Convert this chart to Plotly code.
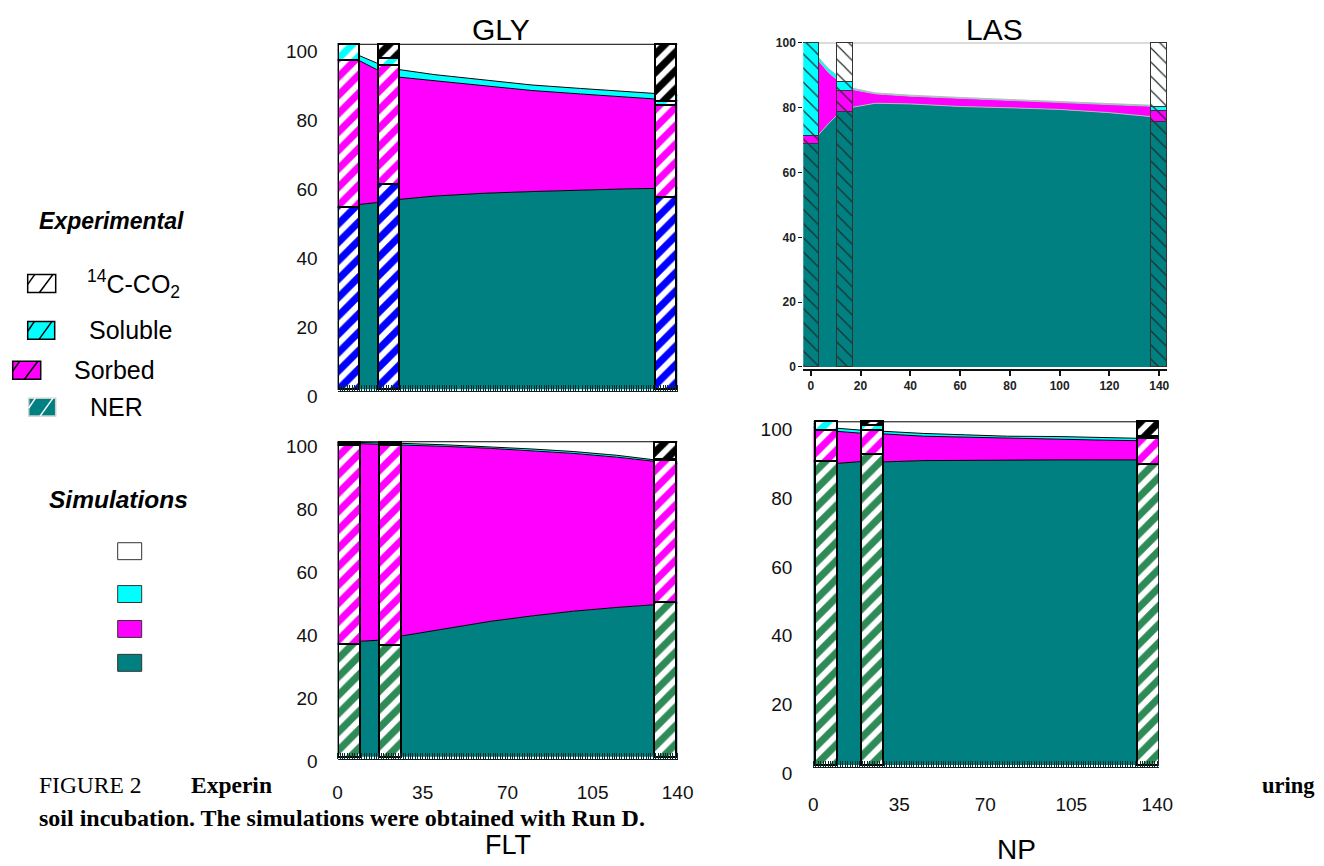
import plotly.graph_objects as go

W, H = 1324, 866
TEAL = '#008080'
MAG = '#FF00FF'
CYAN = '#00FFFF'
WHITE = '#FFFFFF'

# ---------------- data (percent of applied 14C) ----------------
# GLY
gly_exp_days = [4.3, 20.8, 135.0]
gly_exp_ner = [53.0, 59.4, 55.8]
gly_exp_sorbed = [42.6, 34.7, 26.6]
gly_exp_soluble = [4.4, 2.1, 1.1]
gly_exp_co2 = [0.0, 3.8, 16.5]
gly_sim_days = [0, 8, 16, 25, 40, 60, 80, 100, 120, 140]
gly_sim_ner = [52.5, 53.5, 54.1, 55.0, 56.0, 56.8, 57.3, 57.8, 58.1, 58.3]
gly_sim_sorbed = [46.0, 42.1, 38.6, 35.5, 33.4, 31.2, 29.3, 27.8, 26.5, 25.4]
gly_sim_soluble = [1.3, 1.4, 1.9, 2.2, 1.8, 1.7, 1.6, 1.6, 1.6, 1.6]
gly_sim_co2 = [0.2, 3.0, 5.4, 7.3, 8.8, 10.3, 11.8, 12.8, 13.8, 14.7]

# LAS
las_exp_days = [0.2, 14.0, 139.9]
las_exp_ner = [69.0, 78.9, 75.7]
las_exp_sorbed = [2.5, 6.4, 3.5]
las_exp_soluble = [28.5, 2.7, 1.1]
las_exp_co2 = [0.0, 12.0, 19.7]
las_sim_days = [0, 3.3, 7, 10.9, 17, 26, 40, 60, 80, 100, 120, 137, 143.2]
las_sim_ner = [66.0, 71.8, 75.0, 78.0, 80.2, 81.4, 81.2, 80.4, 80.0, 79.5, 78.5, 77.2, 76.8]
las_sim_sorbed = [31.0, 22.6, 16.0, 10.4, 5.4, 2.9, 2.4, 2.5, 2.2, 2.0, 2.5, 3.3, 3.5]
las_sim_soluble = [0.8, 1.0, 1.2, 1.3, 0.4, 0.3, 0.3, 0.3, 0.3, 0.3, 0.3, 0.3, 0.3]
las_sim_co2 = [2.2, 4.6, 7.8, 10.3, 14.0, 15.4, 16.1, 16.8, 17.5, 18.2, 18.7, 19.2, 19.4]

# FLT
flt_exp_days = [4.5, 21.4, 134.8]
flt_exp_ner = [36.0, 35.7, 49.4]
flt_exp_sorbed = [63.0, 63.3, 44.8]
flt_exp_soluble = [0.8, 0.7, 0.3]
flt_exp_co2 = [0.2, 0.3, 5.5]
flt_sim_days = [0, 9, 17, 26, 45, 63, 80, 97, 115, 130, 140]
flt_sim_ner = [36.2, 36.7, 37.0, 38.3, 40.8, 43.0, 44.7, 46.2, 47.4, 48.3, 48.8]
flt_sim_sorbed = [63.4, 62.7, 62.2, 60.7, 57.7, 54.9, 52.5, 50.1, 47.7, 45.4, 44.2]
flt_sim_soluble = [0.3, 0.4, 0.4, 0.5, 0.5, 0.5, 0.5, 0.6, 0.6, 0.6, 0.6]
flt_sim_co2 = [0.1, 0.2, 0.4, 0.5, 1.0, 1.6, 2.3, 3.1, 4.3, 5.7, 6.4]

# NP
np_exp_days = [5.2, 23.9, 136.3]
np_exp_ner = [88.4, 90.5, 87.7]
np_exp_sorbed = [9.0, 6.9, 7.6]
np_exp_soluble = [2.6, 1.6, 0.5]
np_exp_co2 = [0.0, 1.0, 4.2]
np_sim_days = [0, 10, 19, 28, 45, 62, 79, 100, 115, 132, 140]
np_sim_ner = [88.6, 87.9, 88.4, 88.3, 88.7, 88.8, 88.9, 88.9, 88.9, 88.9, 88.9]
np_sim_sorbed = [9.9, 9.3, 8.3, 8.2, 7.1, 6.7, 6.3, 6.1, 5.8, 5.6, 5.6]
np_sim_soluble = [0.9, 0.9, 0.9, 0.7, 0.8, 0.7, 0.6, 0.7, 0.7, 0.7, 0.7]
np_sim_co2 = [0.6, 1.9, 2.4, 2.8, 3.4, 3.8, 4.2, 4.3, 4.6, 4.8, 4.8]

y_ticks = [0, 20, 40, 60, 80, 100]
las_x_ticks = [0, 20, 40, 60, 80, 100, 120, 140]
day_ticks = [0, 35, 70, 105, 140]

# ---------------- helpers (pixel positions -> paper fractions) ----------------
SX, OX = 0.9843, 12.3
SY, OY = 0.98, 9.6


def fx(x):
    return ((x - OX) / SX) / W


def fy(y):
    return 1 - ((y - OY) / SY) / H


SANS = 'Liberation Sans, Arial, sans-serif'
SERIF = 'Liberation Serif, Times New Roman, serif'

fig = go.Figure()

panels = [
    dict(key='gly', base=1, ov=5,
         exp=(gly_exp_days, gly_exp_ner, gly_exp_sorbed, gly_exp_soluble, gly_exp_co2),
         sim=(gly_sim_days, gly_sim_ner, gly_sim_sorbed, gly_sim_soluble, gly_sim_co2),
         ner_col='#0000FF', width=8.8, style='stripe', simline='black'),
    dict(key='las', base=2, ov=6,
         exp=(las_exp_days, las_exp_ner, las_exp_sorbed, las_exp_soluble, las_exp_co2),
         sim=(las_sim_days, las_sim_ner, las_sim_sorbed, las_sim_soluble, las_sim_co2),
         ner_col=TEAL, width=6.3, style='hatch', simline='#b8b8b8'),
    dict(key='flt', base=3, ov=7,
         exp=(flt_exp_days, flt_exp_ner, flt_exp_sorbed, flt_exp_soluble, flt_exp_co2),
         sim=(flt_sim_days, flt_sim_ner, flt_sim_sorbed, flt_sim_soluble, flt_sim_co2),
         ner_col='#2e8b57', width=9.0, style='stripe', simline='black'),
    dict(key='np', base=4, ov=8,
         exp=(np_exp_days, np_exp_ner, np_exp_sorbed, np_exp_soluble, np_exp_co2),
         sim=(np_sim_days, np_sim_ner, np_sim_sorbed, np_sim_soluble, np_sim_co2),
         ner_col='#2e8b57', width=8.8, style='stripe', simline='black'),
]

sim_fill = [TEAL, MAG, CYAN, WHITE]

for p in panels:
    xb = 'x' if p['base'] == 1 else 'x%d' % p['base']
    yb = 'y' if p['base'] == 1 else 'y%d' % p['base']
    xo = 'x%d' % p['ov']
    yo = 'y%d' % p['ov']
    days = p['sim'][0]
    for i, vals in enumerate(p['sim'][1:]):
        fig.add_trace(go.Scatter(
            x=days, y=vals, stackgroup=p['key'], mode='lines',
            line=dict(color=p['simline'], width=1),
            fillcolor=sim_fill[i], xaxis=xb, yaxis=yb,
            hoverinfo='skip', showlegend=False))
    edays = p['exp'][0]
    if p['style'] == 'stripe':
        fgs = [p['ner_col'], MAG, CYAN, 'black']
        for i, vals in enumerate(p['exp'][1:]):
            fig.add_trace(go.Bar(
                x=edays, y=vals, width=p['width'], xaxis=xo, yaxis=yo,
                marker=dict(color=WHITE,
                            pattern=dict(shape='/', fgcolor=fgs[i], bgcolor=WHITE,
                                         fgopacity=1, size=13, solidity=0.55),
                            line=dict(color='black', width=2)),
                hoverinfo='skip', showlegend=False))
    else:
        bgs = [TEAL, MAG, CYAN, WHITE]
        for i, vals in enumerate(p['exp'][1:]):
            fig.add_trace(go.Bar(
                x=edays, y=vals, width=p['width'], xaxis=xo, yaxis=yo,
                marker=dict(color=bgs[i],
                            pattern=dict(shape='\\', fgcolor='#1c2c2c', bgcolor=bgs[i],
                                         fgopacity=1, size=10, solidity=0.12),
                            line=dict(color='#333333', width=1)),
                hoverinfo='skip', showlegend=False))

# ---------------- axes ----------------
YLO, YHI = -0.6, 101.0


def ydomain(p0, p100):
    s = (p0 - p100) / 100.0
    return [fy(p0 - YLO * s), fy(p100 - (YHI - 100) * s)]


minor_ticks = dict(ticks='inside', dtick=1, tick0=0, ticklen=6,
                   tickcolor='#0a2e2e', tickwidth=1, showgrid=False)
tfont = dict(family=SANS, size=19, color='#111')

layout_axes = {}
# GLY
layout_axes['xaxis'] = dict(domain=[fx(337), fx(677)], range=[0, 140], anchor='y',
                            showticklabels=False, ticks='', showgrid=False, zeroline=False,
                            showline=True, linecolor='#102020', linewidth=1,
                            minor=minor_ticks)
layout_axes['yaxis'] = dict(domain=ydomain(389, 43), range=[YLO, YHI], anchor='x',
                            tickvals=y_ticks, ticks='', showgrid=False, zeroline=False,
                            showline=False, ticklabelshift=7, ticklabelstandoff=19,
                            tickfont=tfont)
# LAS
layout_axes['xaxis2'] = dict(domain=[fx(802.7), fx(1166.7)], range=[-3.0, 143.2], anchor='y2',
                             tickvals=las_x_ticks,
                             ticktext=['<b>%d</b>' % v for v in las_x_ticks],
                             ticks='outside', ticklen=5, tickwidth=2, tickcolor='#111',
                             showgrid=False, zeroline=False, showline=True,
                             linecolor='#111', linewidth=2,
                             tickfont=dict(family=SANS, size=12, color='#222'))
layout_axes['yaxis2'] = dict(domain=ydomain(366.7, 41.7), range=[YLO, YHI], anchor='x2',
                             tickvals=y_ticks,
                             ticktext=['<b>%d</b>' % v for v in y_ticks],
                             ticks='outside', ticklen=4, tickwidth=1, tickcolor='#111',
                             showgrid=False, zeroline=False, showline=False,
                             tickfont=dict(family=SANS, size=12, color='#222'))
# FLT
layout_axes['xaxis3'] = dict(domain=[fx(337), fx(677)], range=[0, 140], anchor='y3',
                             tickvals=day_ticks, ticks='', showgrid=False, zeroline=False,
                             showline=True, linecolor='#102020', linewidth=1,
                             ticklabelstandoff=17, minor=minor_ticks, tickfont=tfont)
layout_axes['yaxis3'] = dict(domain=ydomain(757.7, 441.7), range=[YLO, YHI], anchor='x3',
                             tickvals=y_ticks, ticks='', showgrid=False, zeroline=False,
                             showline=False, ticklabelshift=5, ticklabelstandoff=19,
                             tickfont=tfont)
# NP
layout_axes['xaxis4'] = dict(domain=[fx(812.7), fx(1158.3)], range=[0, 140.65], anchor='y4',
                             tickvals=day_ticks, ticks='', showgrid=False, zeroline=False,
                             showline=True, linecolor='#102020', linewidth=1,
                             ticklabelstandoff=20, minor=minor_ticks, tickfont=tfont)
layout_axes['yaxis4'] = dict(domain=ydomain(766, 421.7), range=[YLO, YHI], anchor='x4',
                             tickvals=y_ticks, ticks='', showgrid=False, zeroline=False,
                             showline=False, ticklabelshift=8, ticklabelstandoff=20,
                             tickfont=tfont)

# overlay axes (bars drawn above the simulated areas)
for base, ov in [(1, 5), (2, 6), (3, 7), (4, 8)]:
    bx = 'xaxis' if base == 1 else 'xaxis%d' % base
    by = 'yaxis' if base == 1 else 'yaxis%d' % base
    layout_axes['xaxis%d' % ov] = dict(overlaying='x' if base == 1 else 'x%d' % base,
                                       range=layout_axes[bx]['range'], visible=False,
                                       anchor='y%d' % ov)
    layout_axes['yaxis%d' % ov] = dict(overlaying='y' if base == 1 else 'y%d' % base,
                                       range=layout_axes[by]['range'], visible=False,
                                       anchor='x%d' % ov)

fig.update_layout(**layout_axes)

# ---------------- legend (drawn) ----------------
shapes = []


def rect(x0, y0, x1, y1, fill, line='black', lw=1.5):
    shapes.append(dict(type='rect', xref='paper', yref='paper',
                       x0=fx(x0), x1=fx(x1), y0=fy(y1), y1=fy(y0),
                       fillcolor=fill, line=dict(color=line, width=lw)))


def seg(x0, y0, x1, y1, color='black', lw=1.5):
    shapes.append(dict(type='line', xref='paper', yref='paper',
                       x0=fx(x0), x1=fx(x1), y0=fy(y0), y1=fy(y1),
                       line=dict(color=color, width=lw)))


def hatched_box(x0, y0, x1, y1, fill, line, hatch):
    rect(x0, y0, x1, y1, fill, line)
    w = x1 - x0
    seg(x0 + 0.42 * w, y1, x0 + 0.9 * w, y0, hatch)
    seg(x0, y0 + 0.55 * (y1 - y0), x0 + 0.25 * w, y0, hatch)


hatched_box(27, 274, 55, 292, WHITE, 'black', 'black')
hatched_box(27, 321, 54, 339, CYAN, 'black', 'black')
hatched_box(12, 361, 40, 379, MAG, 'black', 'black')
hatched_box(28, 398, 55, 416, TEAL, '#cfcfcf', WHITE)

rect(117, 543, 141, 560, WHITE, '#333', 1)
rect(117, 586, 141, 603, CYAN, '#333', 1)
rect(117, 621, 141, 638, MAG, '#333', 1)
rect(117, 655, 141, 672, TEAL, '#333', 1)

annotations = []


def text(x, y, s, size, family=SANS, anchor='left', color='black'):
    annotations.append(dict(xref='paper', yref='paper', x=fx(x), y=fy(y), text=s,
                            showarrow=False, xanchor=anchor, yanchor='middle',
                            font=dict(family=family, size=size, color=color)))


text(111, 220, '<b><i>Experimental</i></b>', 23, anchor='center')
text(84, 283, '<sup>14</sup>C-CO<sub>2</sub>', 25)
text(86, 330, 'Soluble', 25)
text(71, 370, 'Sorbed', 25)
text(87, 407, 'NER', 25)
text(118, 500, '<b><i>Simulations</i></b>', 24.5, anchor='center')

# panel titles
text(500, 28, 'GLY', 30, anchor='center')
text(994, 28, 'LAS', 30, anchor='center')
text(507, 846, 'FLT', 27, anchor='center')
text(1016, 851, 'NP', 28, anchor='center')

# caption fragments
text(36, 786, 'FIGURE 2', 23.5, family=SERIF)
text(188, 786, '<b>Experin</b>', 23.5, family=SERIF)
text(1317, 787, '<b>uring</b>', 22.5, family=SERIF, anchor='right')
text(36, 819, '<b>soil incubation. The simulations were obtained with Run D.</b>', 24,
     family=SERIF)

fig.update_layout(
    width=W, height=H, margin=dict(l=0, r=0, t=0, b=0),
    paper_bgcolor='white', plot_bgcolor='rgba(0,0,0,0)',
    barmode='stack', bargap=0, showlegend=False,
    shapes=shapes, annotations=annotations,
)

fig.write_html('out.html')
